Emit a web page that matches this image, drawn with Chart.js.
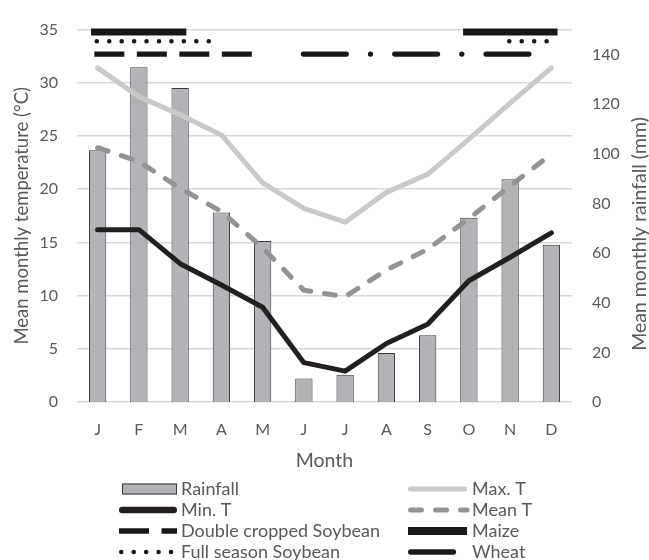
<!DOCTYPE html>
<html>
<head>
<meta charset="utf-8">
<script src="https://cdn.jsdelivr.net/npm/chart.js@4.4.1/dist/chart.umd.min.js"></script>
<style>
  html, body { margin: 0; padding: 0; background: #fff; }
  #wrap { width: 649px; height: 560px; }
</style>
</head>
<body>
<div id="wrap"><canvas id="climate-chart" width="649" height="560"></canvas></div>
<script>
// monthly climate
const months = ['J', 'F', 'M', 'A', 'M', 'J', 'J', 'A', 'S', 'O', 'N', 'D'];
const rainfall = [101.4, 134.8, 126.5, 76.3, 64.8, 9.5, 11.0, 19.7, 26.9, 74.2, 89.7, 63.3];
const maxT = [31.4, 28.7, 27.0, 25.1, 20.6, 18.2, 16.9, 19.7, 21.4, 24.7, 28.1, 31.4];
const meanT = [23.9, 22.6, 20.1, 17.9, 14.5, 10.5, 9.9, 12.4, 14.35, 17.25, 20.3, 23.3];
const minT = [16.2, 16.2, 13.0, 11.0, 8.9, 3.7, 2.9, 5.5, 7.3, 11.4, 13.6, 15.9];
const tempTicks = [0, 5, 10, 15, 20, 25, 30, 35];
const rainTicks = [0, 20, 40, 60, 80, 100, 120, 140];

// crop calendar, [start, end] in month index (0 = middle of January)
const maizeSeasons = [[-0.16, 2.15], [8.86, 11.15]];
const fullSeasonSoySeasons = [[-0.02, 2.71], [9.98, 10.95]];
const doubleSoySeasons = [[-0.08, 3.745]];
const wheatSeasons = [[4.99, 10.47]];

const FONT = 'Lato';
const TEXT = '#595959';

function cropLines(label, seasons, level, style) {
    return seasons.map(s => Object.assign({
        type: 'line',
        label: label,
        xAxisID: 'xc',
        yAxisID: 'y',
        data: [{x: s[0], y: level}, {x: s[1], y: level}],
        pointRadius: 0,
        fill: false,
        clip: false,
        order: 0
    }, style));
}

const maizeStyle = {borderColor: '#1a1718', borderWidth: 7, borderCapStyle: 'butt'};
const fullSoyStyle = {borderColor: '#1a1718', borderWidth: 4.6, borderCapStyle: 'round', borderDash: [0, 12.44]};
const doubleSoyStyle = {borderColor: '#1a1718', borderWidth: 5.3, borderCapStyle: 'butt', borderDash: [30, 12.5]};
const wheatStyle = {borderColor: '#1a1718', borderWidth: 5.3, borderCapStyle: 'round', borderDash: [42.8, 24.25, 0, 24.25]};

const datasets = [
    {
        type: 'bar', label: 'Rainfall', data: rainfall, yAxisID: 'y2', xAxisID: 'x',
        backgroundColor: '#b2b3b7', borderColor: '#3a3a3a', borderWidth: 1,
        grouped: false, categoryPercentage: 1, barPercentage: 0.42, order: 4
    },
    {
        type: 'line', label: 'Max. T', data: maxT, yAxisID: 'y', xAxisID: 'x',
        borderColor: '#c9c9c9', borderWidth: 5, pointRadius: 0, borderCapStyle: 'round',
        borderJoinStyle: 'round', tension: 0, order: 3
    },
    {
        type: 'line', label: 'Mean T', data: meanT, yAxisID: 'y', xAxisID: 'x',
        borderColor: '#939393', borderWidth: 5, pointRadius: 0, borderCapStyle: 'round',
        borderJoinStyle: 'round', borderDash: [11, 14], tension: 0, order: 2
    },
    {
        type: 'line', label: 'Min. T', data: minT, yAxisID: 'y', xAxisID: 'x',
        borderColor: '#231f20', borderWidth: 5, pointRadius: 0, borderCapStyle: 'round',
        borderJoinStyle: 'round', tension: 0, order: 1
    }
].concat(
    cropLines('Maize', maizeSeasons, 34.77, maizeStyle),
    cropLines('Full season Soybean', fullSeasonSoySeasons, 33.9, fullSoyStyle),
    cropLines('Double cropped Soybean', doubleSoySeasons, 32.7, doubleSoyStyle),
    cropLines('Wheat', wheatSeasons, 32.7, wheatStyle)
);

// two column legend under the plot
const legendItems = [
    {label: 'Rainfall', col: 0, row: 0, box: true},
    {label: 'Max. T', col: 1, row: 0},
    {label: 'Min. T', col: 0, row: 1, width: 6.5},
    {label: 'Mean T', col: 1, row: 1},
    {label: 'Double cropped Soybean', col: 0, row: 2},
    {label: 'Maize', col: 1, row: 2, width: 8},
    {label: 'Full season Soybean', col: 0, row: 3, to: 172},
    {label: 'Wheat', col: 1, row: 3, to: 457}
];
const legendCols = [{from: 119, to: 177, text: 181}, {from: 408, to: 467, text: 472}];
const legendRows = [489, 510, 531, 552];

const legendPlugin = {
    id: 'cropLegend',
    afterDraw(chart) {
        const ctx = chart.ctx;
        ctx.save();
        legendItems.forEach(item => {
            const ds = chart.data.datasets.find(d => d.label === item.label);
            const col = legendCols[item.col];
            const y = legendRows[item.row];
            if (item.box) {
                ctx.fillStyle = ds.backgroundColor;
                ctx.fillRect(col.from + 3, y - 5.5, col.to - col.from - 3, 11);
                ctx.strokeStyle = ds.borderColor;
                ctx.lineWidth = 1;
                ctx.strokeRect(col.from + 3.5, y - 5, col.to - col.from - 4, 10);
            } else {
                const w = item.width || ds.borderWidth;
                const round = ds.borderCapStyle === 'round';
                ctx.beginPath();
                ctx.strokeStyle = ds.borderColor;
                ctx.lineWidth = w;
                ctx.lineCap = ds.borderCapStyle;
                ctx.setLineDash(ds.borderDash || []);
                ctx.moveTo(col.from + (round ? w / 2 : 0), y);
                ctx.lineTo((item.to || col.to) - (round && !ds.borderDash ? w / 2 : 0), y);
                ctx.stroke();
            }
            ctx.setLineDash([]);
            ctx.fillStyle = TEXT;
            ctx.font = '18px ' + FONT;
            ctx.textAlign = 'left';
            ctx.textBaseline = 'middle';
            ctx.fillText(item.label, col.text, y);
        });
        // right axis title reads bottom to top
        ctx.translate(640, 234);
        ctx.rotate(-Math.PI / 2);
        ctx.font = '19.5px ' + FONT;
        ctx.textAlign = 'center';
        ctx.fillText('Mean monthly rainfall (mm)', 0, 0);
        ctx.restore();
    }
};

const ctx = document.getElementById('climate-chart').getContext('2d');
new Chart(ctx, {
    data: {labels: months, datasets: datasets},
    plugins: [legendPlugin],
    options: {
        responsive: false,
        animation: false,
        layout: {padding: {top: 20, bottom: 88, left: 0, right: 0}},
        plugins: {legend: {display: false}, tooltip: {enabled: false}},
        scales: {
            x: {
                type: 'category',
                offset: true,
                grid: {display: false},
                border: {display: false},
                ticks: {color: TEXT, font: {family: FONT, size: 16, lineHeight: 1.2}, padding: 10},
                title: {display: true, text: 'Month', color: TEXT, font: {family: FONT, size: 19.5, lineHeight: 1.2}, padding: {top: 0, bottom: 0}},
                afterFit: s => { s.height = 70; }
            },
            xc: {
                type: 'linear',
                min: -0.5,
                max: 11.5,
                display: false
            },
            y: {
                position: 'left',
                min: 0,
                max: 35,
                grid: {color: '#d9d9d9', lineWidth: 1.5, drawTicks: false},
                border: {display: false},
                ticks: {color: TEXT, font: {family: FONT, size: 16}, padding: 19},
                title: {display: true, text: 'Mean monthly temperature (°C)', color: TEXT, font: {family: FONT, size: 18.5, lineHeight: 1.2}, padding: {top: 11, bottom: 0}},
                afterBuildTicks: s => { s.ticks = tempTicks.map(v => ({value: v})); },
                afterFit: s => { s.width = 77; }
            },
            y2: {
                position: 'right',
                min: 0,
                max: 150,
                grid: {display: false, drawTicks: false},
                border: {display: false},
                ticks: {color: TEXT, font: {family: FONT, size: 16}, padding: 20},
                afterBuildTicks: s => { s.ticks = rainTicks.map(v => ({value: v})); },
                afterFit: s => { s.width = 77; }
            }
        }
    }
});
</script>
</body>
</html>
